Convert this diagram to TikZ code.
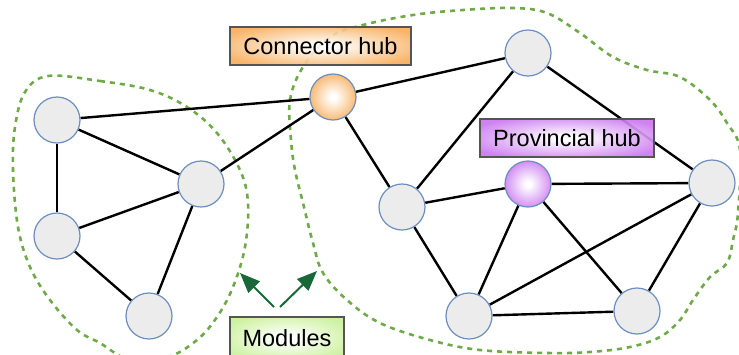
\documentclass[tikz,border=0pt]{standalone}
\usepackage{fontspec}
\setmainfont{Liberation Sans}
\usetikzlibrary{arrows.meta,backgrounds}
\definecolor{nodefill}{RGB}{236,236,236}
\definecolor{nodeline}{RGB}{108,142,191}
\definecolor{modgreen}{RGB}{112,170,72}
\definecolor{arrowgreen}{RGB}{24,104,56}
\definecolor{hubor}{RGB}{247,172,88}
\definecolor{hubvi}{RGB}{202,118,240}
\definecolor{modlt}{RGB}{200,240,150}
\definecolor{boxline}{RGB}{85,85,85}
% soft glows: white centre fading out to the tint at the rim
\pgfdeclareradialshading{orangeglow}{\pgfpoint{0bp}{0bp}}{color(0bp)=(white); color(3bp)=(white); color(30bp)=(hubor); color(100bp)=(hubor)}
\pgfdeclareradialshading{violetglow}{\pgfpoint{0bp}{0bp}}{color(0bp)=(white); color(3bp)=(white); color(30bp)=(hubvi); color(100bp)=(hubvi)}
\pgfdeclareradialshading{greenglow}{\pgfpoint{0bp}{0bp}}{color(0bp)=(white); color(3bp)=(white); color(30bp)=(modlt); color(100bp)=(modlt)}
\begin{document}
\begin{tikzpicture}[x=1pt,y=-1pt,
  vertex/.style={circle,draw=nodeline,line width=1.2pt,fill=nodefill,minimum size=46pt,inner sep=0pt},
  conhub/.style={vertex,shading=orangeglow},
  provhub/.style={vertex,shading=violetglow},
  link/.style={line width=2.4pt,black},
  module/.style={draw=modgreen,line width=2.6pt,dash pattern=on 5pt off 5pt},
  tag/.style={draw=boxline,line width=1.3pt,font=\fontsize{23.5}{27}\selectfont,inner sep=0pt,minimum height=38pt,fill opacity=0.9,text opacity=1,draw opacity=1},
  pointer/.style={arrowgreen,line width=2pt,-{Triangle[length=20pt,width=16pt]}}]
\useasboundingbox (0,0) rectangle (739,354);

% left module
\node[vertex] (l1) at (57,120) {};
\node[vertex] (l2) at (201,184) {};
\node[vertex] (l3) at (57,236) {};
\node[vertex] (l4) at (149,316) {};

% connector hub
\node[conhub] (c) at (333,97) {};

% right module
\node[vertex] (t) at (528,53) {};
\node[provhub] (p) at (528,184) {};
\node[vertex] (m) at (402,207) {};
\node[vertex] (r) at (712,183) {};
\node[vertex] (b1) at (469,316) {};
\node[vertex] (b2) at (637,311) {};

\begin{scope}[on background layer]
  % module outlines
  \draw[module] plot[smooth cycle,tension=0.6] coordinates {
    (48,76) (100,81) (150,90) (187,107) (217,133) (240,170) (248,203)
    (245,247) (233,287) (217,317) (197,340) (168,357) (130,360) (100,343)
    (77,330) (50,300) (30,267) (18,227) (13,170) (15,127) (25,92)};
  \draw[module] plot[smooth cycle,tension=0.6] coordinates {
    (291,140) (290,100) (303,67) (330,37) (363,25) (413,15) (463,10)
    (513,8) (547,13) (580,33) (613,57) (647,70) (680,77) (710,100)
    (727,123) (740,150) (738,213) (733,240) (727,263) (710,277)
    (693,300) (680,320) (660,337) (630,347) (590,352) (547,353) (480,350)
    (430,340) (380,323) (347,300) (323,273) (313,243) (303,203) (295,170)};
  % connections
  \draw[link] (l1) -- (l3);
  \draw[link] (l1) -- (l2);
  \draw[link] (l3) -- (l2);
  \draw[link] (l3) -- (l4);
  \draw[link] (l4) -- (l2);
  \draw[link] (l1) -- (c);
  \draw[link] (l2) -- (c);
  \draw[link] (c) -- (t);
  \draw[link] (c) -- (m);
  \draw[link] (t) -- (m);
  \draw[link] (t) -- (r);
  \draw[link] (m) -- (p);
  \draw[link] (m) -- (b1);
  \draw[link] (p) -- (r);
  \draw[link] (p) -- (b1);
  \draw[link] (p) -- (b2);
  \draw[link] (r) -- (b1);
  \draw[link] (r) -- (b2);
  \draw[link] (b1) -- (b2);
\end{scope}

% labels
\node[tag,minimum width=181pt,shading=orangeglow] (lc) at (320.5,46) {Connector hub};
\node[tag,minimum width=174pt,shading=violetglow] (lp) at (567,138) {Provincial hub};
\node[tag,minimum width=114pt,minimum height=42pt,shading=greenglow] (lm) at (287,338) {Modules};

% pointers to the modules
\coordinate (msl) at (274,307);
\coordinate (msr) at (280,307);
\coordinate (ml) at (240,273);
\coordinate (mr) at (317,271);
\draw[pointer] (msl) -- (ml);
\draw[pointer] (msr) -- (mr);
\end{tikzpicture}
\end{document}
